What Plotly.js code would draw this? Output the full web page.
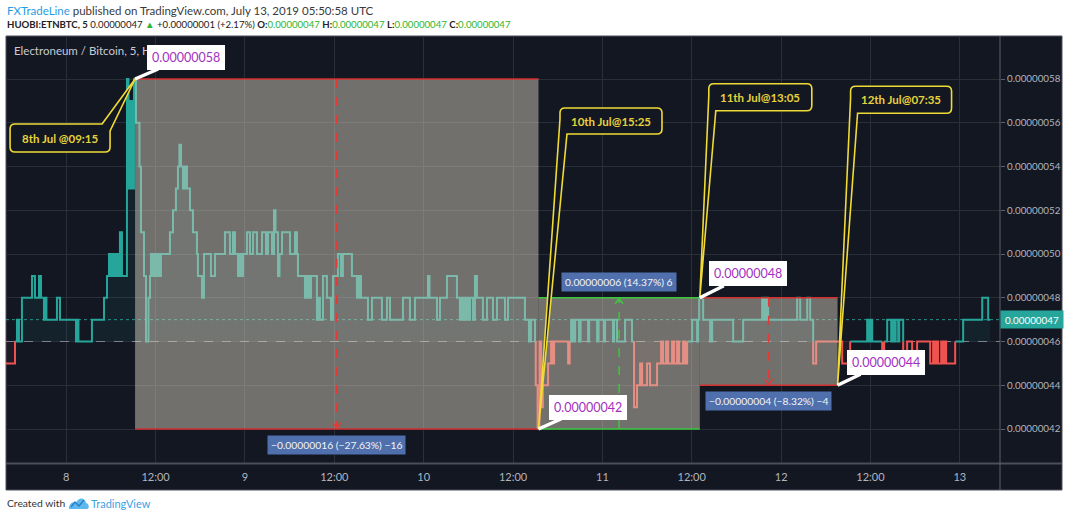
<!DOCTYPE html>
<html><head><meta charset="utf-8">
<script src="https://cdn.plot.ly/plotly-3.0.1.min.js"></script>
<style>html,body{margin:0;padding:0;background:#fff;} #chart{width:1068px;height:518px;}</style>
</head><body><div id="chart"></div>
<script>
// ---- DATA (hours since 2019-07-08 00:00 UTC, price in satoshi = 1e-8 BTC) ----
const times = [-8.10,-6.87,-6.61,-6.34,-5.94,-4.59,-4.19,-3.65,-3.38,-2.98,-2.85,-2.65,-1.24,-0.83,1.32,1.52,1.65,3.46,
5.08,5.48,5.75,6.02,6.28,6.55,6.69,6.96,7.22,7.49,8.16,8.37,8.57,8.84,9.10,9.37,9.84,10.04,10.45,10.72,11.05,11.25,11.38,
11.52,11.66,11.92,12.19,12.46,12.72,13.93,14.34,14.74,15.01,15.21,15.42,15.68,15.95,16.22,16.62,17.02,17.56,17.69,18.23,
18.50,19.44,19.98,21.32,21.99,22.39,22.66,23.07,23.33,23.47,23.74,24.27,24.68,25.08,25.62,26.29,26.83,27.10,27.64,27.91,
28.11,28.44,28.64,28.98,30.05,30.72,30.99,31.12,32.06,32.33,32.60,32.87,33.67,33.94,34.07,34.48,35.01,35.55,35.82,36.49,
36.89,37.16,38.37,39.04,39.31,39.58,40.52,41.06,42.40,43.07,43.48,45.22,46.16,46.83,48.58,48.78,49.79,50.19,51.13,52.47,
52.87,53.14,53.41,53.68,53.95,54.22,54.62,54.89,55.16,55.96,56.50,57.31,57.84,58.92,59.32,61.60,62.14,62.41,62.95,63.05,
63.30,63.55,63.75,64.00,64.71,65.11,65.25,65.52,67.40,67.60,67.80,68.07,68.34,68.87,69.08,70.08,70.22,71.29,71.49,72.22,
72.36,73.43,73.57,73.97,75.04,75.98,76.25,76.65,77.06,77.33,78.00,78.40,79.34,79.88,80.15,80.55,80.82,81.36,81.63,82.03,
82.30,82.84,83.11,83.38,84.05,84.72,84.86,85.00,85.53,86.47,86.74,89.56,90.90,93.45,93.72,93.99,94.26,98.15,98.56,99.50,
99.90,100.30,100.71,104.20,105.27,107.55,107.82,107.96,108.23,109.57,109.84,110.24,110.78,110.91,111.18,111.38,111.72,
111.85,112.39,112.92,113.59,114.26,116.01,116.41,116.68,116.95,117.08,117.49,117.75,118.02,118.16,119.37,120.44,123.00,
123.80,124.07];
const prices = [45,46,47,46,48,49,48,49,48,47,48,47,48,47,46,47,46,47,
48,49,50,49,50,49,50,49,51,49,58,53,57,53,58,56,54,51,49,46,48,49,50,
49,50,49,50,49,50,51,52,53,54,55,54,53,54,53,52,51,50,49,48,
50,49,50,51,50,51,50,49,50,49,50,51,50,51,50,51,50,51,50,52,
51,49,50,51,50,51,50,49,48,49,48,49,47,48,47,49,48,47,49,50,
49,50,49,48,49,48,47,48,47,48,47,48,47,48,49,48,47,48,49,48,
47,48,47,48,47,48,47,49,48,47,48,47,48,47,48,47,46,47,46,44,
42,46,43,44,45,46,45,46,45,46,47,46,47,46,47,46,47,46,47,46,
47,46,47,46,47,46,43,44,45,44,45,44,45,46,45,46,45,46,45,46,
45,46,45,46,47,46,47,48,47,46,47,46,47,48,47,48,47,48,47,48,
47,45,46,45,46,47,46,47,46,45,46,47,46,47,46,47,46,
47,45,46,45,46,45,46,45,46,45,46,45,46,45,46,47,48,
47,47];
const baselinePrice = 46;
const lastPrice = 47;
const dayTickHours = [0,12,24,36,48,60,72,84,96,108,120];
const dayTickLabels = ['8','12:00','9','12:00','10','12:00','11','12:00','12','12:00','13'];
const priceTicks = [42,44,46,48,50,52,54,56,58];
const priceTickLabels = priceTicks.map(v => '0.000000' + v);

// price-range measurements
const measureStart = [9.25, 63.42, 85.08];
const measureEnd   = [63.42, 85.08, 103.58];
const measureFrom  = [58, 42, 48];
const measureTo    = [42, 48, 44];
const measureLabels = ['\u22120.00000016 (\u221227.63%) \u221216', '0.00000006 (14.37%) 6', '\u22120.00000004 (\u22128.32%) \u22124'];

// callouts
const calloutTimes  = [9.25, 63.42, 85.08, 103.58];
const calloutPrices = [58, 42, 48, 44];
const calloutDates  = ['8th Jul @09:15', '10th Jul@15:25', '11th Jul@13:05', '12th Jul@07:35'];
const calloutPriceText = ['0.00000058', '0.00000042', '0.00000048', '0.00000044'];

// ---- LAYOUT GEOMETRY ----
const W = 1068, H = 518;
const M = {l: 6, r: 68, t: 36, b: 55};
const PW = W - M.l - M.r, PH = H - M.t - M.b;
const xRange = [-8.08, 125.39];
const yRange = [40.446, 59.966];
const px2X = px => (px - M.l) / PW;
const py2Y = py => (H - M.b - py) / PH;

const FONT = 'Lato, Arial, sans-serif';
const TEAL = '#26a69a', RED = '#ef5350';

// ---- build baseline-coloured step line ----
function buildSegments(t, v, base) {
  const teal = {x: [], y: []}, red = {x: [], y: []};
  function add(col, x0, y0, x1, y1) {
    const n = col.x.length;
    if (n && col.x[n-1] === x0 && col.y[n-1] === y0) { col.x.push(x1); col.y.push(y1); }
    else { if (n) { col.x.push(null); col.y.push(null); } col.x.push(x0, x1); col.y.push(y0, y1); }
  }
  for (let i = 0; i < t.length; i++) {
    const x0 = t[i], x1 = i + 1 < t.length ? t[i+1] : t[i];
    const y = v[i];
    let hc;
    if (y > base) hc = teal; else if (y < base) hc = red;
    else {
      const p = i > 0 ? v[i-1] : y, q = i + 1 < v.length ? v[i+1] : y;
      hc = (Math.min(p, q) < base && Math.max(p, q) <= base) ? red : teal;
    }
    add(hc, x0, y, x1, y);
    if (i + 1 < t.length) {
      const a = y, b = v[i+1];
      if (a === b) continue;
      if (a < b) {
        if (a < base) add(red, x1, a, x1, Math.min(b, base));
        if (b > base) add(teal, x1, Math.max(a, base), x1, b);
      } else {
        if (a > base) add(teal, x1, a, x1, Math.max(b, base));
        if (b < base) add(red, x1, Math.min(a, base), x1, b);
      }
    }
  }
  return {teal, red};
}
const seg = buildSegments(times, prices, baselinePrice);
const tFirst = times[0], tLast = times[times.length - 1];

const traces = [
  {x: [tFirst, tLast], y: [baselinePrice, baselinePrice], mode: 'lines', line: {width: 0}, hoverinfo: 'skip', showlegend: false},
  {x: times, y: prices.map(p => Math.max(p, baselinePrice)), mode: 'lines', line: {width: 0, shape: 'hv'},
   fill: 'tonexty', fillcolor: 'rgba(38,166,154,0.08)', hoverinfo: 'skip', showlegend: false},
  {x: [tFirst, tLast], y: [baselinePrice, baselinePrice], mode: 'lines', line: {width: 0}, hoverinfo: 'skip', showlegend: false},
  {x: times, y: prices.map(p => Math.min(p, baselinePrice)), mode: 'lines', line: {width: 0, shape: 'hv'},
   fill: 'tonexty', fillcolor: 'rgba(239,83,80,0.06)', hoverinfo: 'skip', showlegend: false},
  {x: seg.teal.x, y: seg.teal.y, mode: 'lines', line: {color: TEAL, width: 2}, connectgaps: false, hoverinfo: 'skip', showlegend: false},
  {x: seg.red.x, y: seg.red.y, mode: 'lines', line: {color: RED, width: 2}, connectgaps: false, hoverinfo: 'skip', showlegend: false}
];

// ---- shapes ----
const shapes = [];
shapes.push({type: 'rect', xref: 'paper', yref: 'paper', x0: px2X(6), x1: px2X(1062), y0: py2Y(490), y1: py2Y(36),
  fillcolor: '#131722', line: {color: '#50535e', width: 1}, layer: 'below'});
shapes.push({type: 'line', xref: 'x', yref: 'y', x0: xRange[0], x1: xRange[1], y0: baselinePrice, y1: baselinePrice,
  line: {color: 'rgba(200,203,210,0.55)', width: 1, dash: 'dash'}, layer: 'between'});
shapes.push({type: 'line', xref: 'x', yref: 'y', x0: xRange[0], x1: xRange[1], y0: lastPrice, y1: lastPrice,
  line: {color: 'rgba(38,166,154,0.85)', width: 1, dash: 'dot'}, layer: 'between'});

for (let i = 0; i < measureStart.length; i++) {
  const down = measureTo[i] < measureFrom[i];
  const edge = down ? '#d32f2f' : '#3cc83c';
  const lo = Math.min(measureFrom[i], measureTo[i]), hi = Math.max(measureFrom[i], measureTo[i]);
  const mid = (measureStart[i] + measureEnd[i]) / 2;
  shapes.push({type: 'rect', xref: 'x', yref: 'y', x0: measureStart[i], x1: measureEnd[i], y0: lo, y1: hi,
    fillcolor: 'rgba(218,210,190,0.48)', line: {width: 0}, layer: 'above'});
  [lo, hi].forEach(yy => shapes.push({type: 'line', xref: 'x', yref: 'y', x0: measureStart[i], x1: measureEnd[i], y0: yy, y1: yy,
    line: {color: edge, width: 1.5}, layer: 'above'}));
  shapes.push({type: 'line', xref: 'x', yref: 'y', x0: mid, x1: mid, y0: measureFrom[i], y1: measureTo[i],
    line: {color: down ? '#e53935' : '#3cc83c', width: 1.5, dash: 'dash'}, layer: 'above'});
  shapes.push({type: 'path', xref: 'x', yref: 'y', xsizemode: 'pixel', ysizemode: 'pixel', xanchor: mid, yanchor: measureTo[i],
    path: down ? 'M -4,6 L 0,1 L 4,6' : 'M -4,-6 L 0,-1 L 4,-6',
    line: {color: down ? '#e53935' : '#3cc83c', width: 1.5}, layer: 'above'});
}

const calloutPaths = [
  'M -33,-45 L 0,0 L -25,-52 L -25,-68 Q -25,-73 -30,-73 L -120,-73 Q -125,-73 -125,-68 L -125,-50 Q -125,-45 -120,-45 Z',
  'M 21.5,310 L 0,0 L 28.5,295 L 118.5,295 Q 123.5,295 123.5,300 L 123.5,316 Q 123.5,321 118.5,321 L 26.5,321 Q 21.5,321 21.5,316 Z',
  'M 9,202 L 0,0 L 16,187 L 107,187 Q 112,187 112,192 L 112,209 Q 112,214 107,214 L 14,214 Q 9,214 9,209 Z',
  'M 13,287 L 0,0 L 20,272 L 109,272 Q 114,272 114,277 L 114,294 Q 114,299 109,299 L 18,299 Q 13,299 13,294 Z'
];
const calloutTextShift = [[-75, -59], [72.5, 308], [60.5, 200.5], [63.5, 285.5]];
const bubbleOffset = [[51, -22], [49.5, -22], [48, -24], [48, -23]];
for (let i = 0; i < calloutTimes.length; i++) {
  shapes.push({type: 'path', xref: 'x', yref: 'y', xsizemode: 'pixel', ysizemode: 'pixel',
    xanchor: calloutTimes[i], yanchor: calloutPrices[i], path: calloutPaths[i],
    fillcolor: '#131722', line: {color: '#f0da35', width: 1.6}, layer: 'above'});
}

shapes.push({type: 'line', xref: 'paper', yref: 'paper', x0: px2X(6), x1: px2X(1062), y0: py2Y(463.5), y1: py2Y(463.5),
  line: {color: '#4a4e59', width: 2}, layer: 'above'});
shapes.push({type: 'line', xref: 'paper', yref: 'paper', x0: px2X(1000), x1: px2X(1000), y0: py2Y(490), y1: py2Y(36),
  line: {color: '#5d606b', width: 1}, layer: 'above'});

// footer logo
shapes.push({type: 'path', xref: 'paper', yref: 'paper', xsizemode: 'pixel', ysizemode: 'pixel', xanchor: px2X(69), yanchor: py2Y(509),
  path: 'M 0,0 C 0,6 4,8 7,6 C 9,12 16,12 17,6 C 20,6 21,0 18,0 Z', fillcolor: '#5cb8ee', line: {width: 0}});
shapes.push({type: 'path', xref: 'paper', yref: 'paper', xsizemode: 'pixel', ysizemode: 'pixel', xanchor: px2X(69), yanchor: py2Y(509),
  path: 'M 2,2 L 6,7 L 10,3 L 15,9', line: {color: '#2a7fc4', width: 1.3}});

// ---- annotations ----
const ann = [];
ann.push({xref: 'paper', yref: 'paper', x: px2X(5), y: py2Y(11), xanchor: 'left', yanchor: 'middle', showarrow: false,
  text: '<span style="color:#2a9be4">FXTradeLine</span> published on TradingView.com, July 13, 2019 05:50:58 UTC',
  font: {family: FONT, size: 11.5, color: '#3a3a3a'}});
const G = s => '<span style="color:#2db52d">' + s + '</span>';
ann.push({xref: 'paper', yref: 'paper', x: px2X(5), y: py2Y(25), xanchor: 'left', yanchor: 'middle', showarrow: false,
  text: '<b>HUOBI:ETNBTC, 5</b> 0.00000047 ' + G('\u25B2') + ' +0.00000001 (+2.17%) <b>O:</b>' + G('0.00000047') +
        ' <b>H:</b>' + G('0.00000047') + ' <b>L:</b>' + G('0.00000047') + ' <b>C:</b>' + G('0.00000047'),
  font: {family: FONT, size: 9.6, color: '#222'}});
ann.push({xref: 'paper', yref: 'paper', x: px2X(5), y: py2Y(503), xanchor: 'left', yanchor: 'middle', showarrow: false,
  text: 'Created with', font: {family: FONT, size: 10.3, color: '#333'}});
ann.push({xref: 'paper', yref: 'paper', x: px2X(89), y: py2Y(503), xanchor: 'left', yanchor: 'middle', showarrow: false,
  text: 'TradingView', font: {family: FONT, size: 11, color: '#3aa3e3'}});
ann.push({xref: 'paper', yref: 'paper', x: px2X(12), y: py2Y(50), xanchor: 'left', yanchor: 'middle', showarrow: false,
  text: 'Electroneum / Bitcoin, 5, HUOBI', font: {family: FONT, size: 11.5, color: '#c9ccd4'}});

ann.push({xref: 'paper', yref: 'y', x: 1, y: lastPrice, xanchor: 'left', yanchor: 'middle', showarrow: false,
  text: '0.000000' + lastPrice, bgcolor: TEAL, width: 60, height: 15, borderpad: 1,
  font: {family: FONT, size: 9.8, color: '#ffffff'}});

for (let i = 0; i < measureStart.length; i++) {
  const down = measureTo[i] < measureFrom[i];
  ann.push({xref: 'x', yref: 'y', x: (measureStart[i] + measureEnd[i]) / 2, y: measureTo[i],
    yanchor: down ? 'top' : 'bottom', yshift: down ? -6 : 6, showarrow: false,
    text: measureLabels[i], bgcolor: '#4f70ad', borderpad: 3, font: {family: FONT, size: 10.3, color: '#f2f4f8'}});
}
for (let i = 0; i < calloutTimes.length; i++) {
  ann.push({xref: 'x', yref: 'y', x: calloutTimes[i], y: calloutPrices[i], showarrow: false,
    xshift: calloutTextShift[i][0], yshift: calloutTextShift[i][1],
    text: '<b>' + calloutDates[i] + '</b>', font: {family: FONT, size: 11.5, color: '#e6d23c'}});
  ann.push({xref: 'x', yref: 'y', x: calloutTimes[i], y: calloutPrices[i], showarrow: true,
    ax: bubbleOffset[i][0], ay: bubbleOffset[i][1], arrowhead: 0, arrowwidth: 3.5, arrowcolor: '#ffffff', standoff: 0,
    text: calloutPriceText[i], bgcolor: '#ffffff', bordercolor: '#ffffff', borderpad: 4,
    font: {family: FONT, size: 12.5, color: '#a12fc0'}});
}

const layout = {
  width: W, height: H, margin: M,
  paper_bgcolor: '#ffffff', plot_bgcolor: 'rgba(0,0,0,0)',
  showlegend: false, hovermode: false,
  font: {family: FONT},
  xaxis: {range: xRange, tickmode: 'array', tickvals: dayTickHours, ticktext: dayTickLabels,
    showgrid: true, gridcolor: '#2a2e39', gridwidth: 1, zeroline: false, showline: false, ticks: '',
    ticklabelstandoff: 6, tickfont: {family: FONT, size: 11, color: '#b2b5be'}, fixedrange: true},
  yaxis: {range: yRange, side: 'right', tickmode: 'array', tickvals: priceTicks, ticktext: priceTickLabels,
    showgrid: true, gridcolor: '#2a2e39', gridwidth: 1, zeroline: false, showline: false,
    ticks: 'outside', ticklen: 4, tickcolor: '#5d606b', tickfont: {family: FONT, size: 9.8, color: '#b2b5be'}, fixedrange: true},
  shapes: shapes,
  annotations: ann
};

Plotly.newPlot('chart', traces, layout, {staticPlot: true, displayModeBar: false});
</script>
</body></html>
